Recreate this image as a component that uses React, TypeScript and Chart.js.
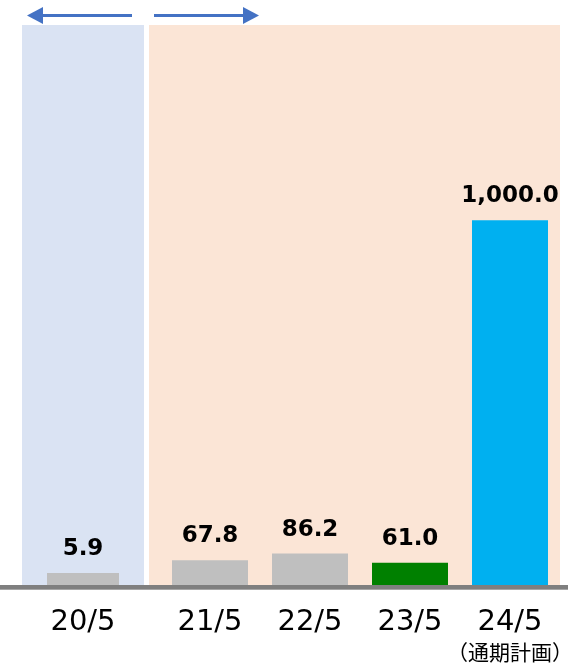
import React, { useEffect, useRef } from 'react';
import { Chart, registerables } from 'chart.js';

Chart.register(...registerables);

// Previous period (left panel)
const prevCategories = ['20/5'];
const prevValues = [5.9];
const prevColors = ['#BFBFBF'];

// Current periods (right panel)
const categories = ['21/5', '22/5', '23/5', '24/5'];
const values = [67.8, 86.2, 61.0, 1000.0];
const colors = ['#BFBFBF', '#BFBFBF', '#008000', '#00B0F0'];
const subLabels = ['', '', '', '（通期計画）'];

const Y_MAX = 1535;

const fmt = (v: number) =>
  v.toLocaleString('en-US', { minimumFractionDigits: 1, maximumFractionDigits: 1 });

function drawArrow(ctx: CanvasRenderingContext2D, tail: number, tip: number, y: number) {
  const dir = tip > tail ? 1 : -1;
  const headLen = 16;
  const half = 8.5;
  ctx.save();
  ctx.strokeStyle = '#4472C4';
  ctx.fillStyle = '#4472C4';
  ctx.lineWidth = 3;
  ctx.beginPath();
  ctx.moveTo(tail, y);
  ctx.lineTo(tip - dir * headLen, y);
  ctx.stroke();
  ctx.beginPath();
  ctx.moveTo(tip, y);
  ctx.lineTo(tip - dir * headLen, y - half);
  ctx.lineTo(tip - dir * headLen, y + half);
  ctx.closePath();
  ctx.fill();
  ctx.restore();
}

function decoPlugin(kind: 'left' | 'right') {
  return {
    id: 'deco',
    beforeDatasetsDraw(chart: any) {
      const { ctx, chartArea: a } = chart;
      ctx.save();
      if (kind === 'left') {
        ctx.fillStyle = '#DAE3F3';
        ctx.fillRect(a.left, a.top, a.right - a.left, a.bottom - a.top);
      } else {
        ctx.fillStyle = '#FBE5D6';
        ctx.fillRect(a.left - 11, a.top, a.right - a.left + 11, a.bottom - a.top);
      }
      ctx.restore();
    },
    afterDatasetsDraw(chart: any) {
      const { ctx, chartArea: a } = chart;
      ctx.save();
      ctx.fillStyle = '#7F7F7F';
      ctx.fillRect(0, a.bottom, chart.width, 4);
      ctx.fillStyle = '#A6A6A6';
      ctx.fillRect(0, a.bottom + 4, chart.width, 1);

      ctx.font = 'bold 23px "DejaVu Sans"';
      ctx.textAlign = 'center';
      ctx.textBaseline = 'alphabetic';
      ctx.fillStyle = '#000';
      const meta = chart.getDatasetMeta(0);
      const data = chart.data.datasets[0].data as number[];
      meta.data.forEach((bar: any, i: number) => {
        ctx.fillText(fmt(data[i]), bar.x, bar.y - 18);
      });
      ctx.restore();

      if (kind === 'left') {
        drawArrow(ctx, a.right - 12, a.left + 5, 15.5);
      } else {
        drawArrow(ctx, a.left - 6, a.left + 99, 15.5);
      }
    },
  };
}

const tickFont = { family: '"DejaVu Sans"', size: 29 };

function makeChart(
  canvas: HTMLCanvasElement,
  kind: 'left' | 'right',
  labels: string[],
  vals: number[],
  cols: string[]
) {
  const scales: any = {
    x: {
      type: 'category',
      offset: true,
      grid: { display: false, drawTicks: false, offset: true },
      border: { display: false },
      ticks: { font: tickFont, color: '#000', padding: 20, autoSkip: false, maxRotation: 0 },
      afterFit: (s: any) => {
        s.height = kind === 'left' ? 79 : 54;
        s.paddingLeft = 0;
        s.paddingRight = 0;
      },
    },
    y: { min: 0, max: Y_MAX, display: false },
  };
  if (kind === 'right') {
    scales.x2 = {
      type: 'category',
      position: 'bottom',
      labels: subLabels,
      offset: true,
      grid: { display: false, drawTicks: false, offset: true },
      border: { display: false },
      ticks: {
        font: { family: '"Noto Sans CJK JP"', size: 21 },
        color: '#000',
        padding: 0,
        autoSkip: false,
        maxRotation: 0,
      },
      afterFit: (s: any) => {
        s.height = 25;
        s.paddingLeft = 0;
        s.paddingRight = 0;
      },
    };
  }
  return new Chart(canvas, {
    type: 'bar',
    data: {
      labels,
      datasets: [
        {
          data: vals,
          backgroundColor: cols,
          borderWidth: 0,
          minBarLength: 12,
          barPercentage: 1,
          categoryPercentage: kind === 'left' ? 0.59 : 0.76,
        },
      ],
    },
    options: {
      animation: false,
      responsive: false,
      devicePixelRatio: 1,
      layout: {
        padding: kind === 'left' ? { left: 22, right: 4, top: 25, bottom: 0 } : { left: 12, right: 8, top: 25, bottom: 0 },
      },
      plugins: { legend: { display: false }, tooltip: { enabled: false } },
      scales,
    },
    plugins: [decoPlugin(kind)],
  } as any);
}

export default function App() {
  const leftRef = useRef<HTMLCanvasElement>(null);
  const rightRef = useRef<HTMLCanvasElement>(null);

  useEffect(() => {
    const c1 = makeChart(leftRef.current!, 'left', prevCategories, prevValues, prevColors);
    const c2 = makeChart(rightRef.current!, 'right', categories, values, colors);
    return () => {
      c1.destroy();
      c2.destroy();
    };
  }, []);

  return (
    <div style={{ position: 'absolute', left: 0, top: 0, width: 568, height: 664, display: 'flex', background: '#fff' }}>
      <canvas ref={leftRef} width={148} height={664} style={{ display: 'block', width: 148, height: 664 }} />
      <canvas ref={rightRef} width={420} height={664} style={{ display: 'block', width: 420, height: 664 }} />
    </div>
  );
}
